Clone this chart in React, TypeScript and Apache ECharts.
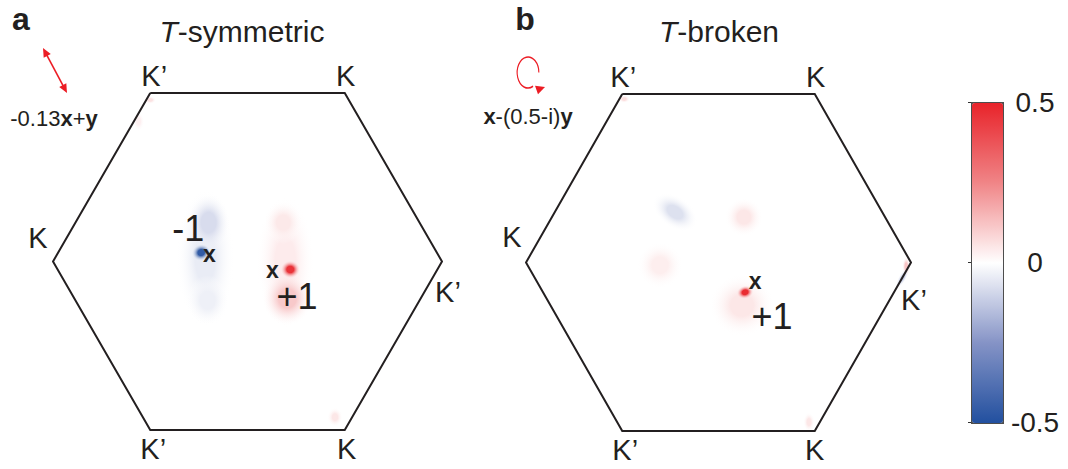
import React, { useEffect, useRef } from 'react';
import * as echarts from 'echarts';

const S = Math.sqrt(3) / 2;
// Brillouin-zone hexagon vertices (k-space units): top-left, top-right, right, bottom-right, bottom-left, left
const hexVertices: number[][] = [[-0.5, S], [0.5, S], [1, 0], [0.5, -S], [-0.5, -S], [-1, 0]];
const vertexNames: string[] = ['K’', 'K', 'K’', 'K', 'K’', 'K'];

// Berry-curvature blobs: [kx, ky, value, extentX, extentY, tiltDeg]
const blobsA: number[][] = [
  [-0.217, 0.02, -0.045, 0.15, 0.36, 0],
  [-0.2, 0.2, -0.08, 0.11, 0.15, 0],
  [-0.205, -0.2, -0.035, 0.11, 0.13, 0],
  [-0.238, 0.046, -0.46, 0.05, 0.045, 20],
  [0.194, 0.0, 0.04, 0.15, 0.34, 0],
  [0.184, 0.2, 0.045, 0.1, 0.11, 0],
  [0.205, -0.19, 0.11, 0.13, 0.14, 0],
  [0.22, -0.041, 0.46, 0.052, 0.048, 0],
  [-0.5, 0.83, 0.06, 0.03, 0.02, 0],
  [-0.56, 0.72, 0.03, 0.03, 0.05, 0],
  [0.45, -0.8, 0.05, 0.04, 0.05, 0],
];
const blobsB: number[][] = [
  [-0.226, 0.259, -0.07, 0.13, 0.08, -35],
  [0.132, 0.233, 0.05, 0.1, 0.1, 0],
  [-0.304, -0.014, 0.035, 0.12, 0.12, 0],
  [0.122, -0.22, 0.05, 0.17, 0.16, 0],
  [0.138, -0.153, 0.48, 0.045, 0.035, 15],
  [0.975, -0.02, 0.12, 0.02, 0.05, 0],
  [0.955, -0.08, -0.12, 0.02, 0.06, -30],
  [-0.49, 0.84, 0.07, 0.03, 0.02, 0],
  [0.47, -0.82, 0.05, 0.03, 0.05, 0],
];

// Text markers inside the zones
const markTextA: string[] = ['-1', 'x', 'x', '+1'];
const markPosA: number[][] = [[-0.305, 0.168], [-0.196, 0.036], [0.128, -0.045], [0.254, -0.18]];
const markTextB: string[] = ['x', '+1'];
const markPosB: number[][] = [[0.19, -0.095], [0.278, -0.275]];

const colorbarTicks: number[] = [-0.5, 0, 0.5];
const titles: string[] = ['{i|T}-symmetric', '{i|T}-broken'];
const panelLetters: string[] = ['a', 'b'];
const polarisations: string[] = ['-0.13{b|x}+{b|y}', '{b|x}-(0.5-i){b|y}'];

const FONT = '"Liberation Sans", Arial, Helvetica, sans-serif';
const INK = '#231f20';

const vertexOffsetsA = [[4, -17], [1, -17], [6, 30], [2, 19], [3, 19], [-15, -24]];
const vertexOffsetsB = [[1, -17], [1, -17], [3, 37], [0, 19], [3, 19], [-14, -26]];

function textSeries(gridIdx: number, pos: number[][], texts: string[], offsets: number[][] | null, styleFor: (t: string) => any) {
  return {
    type: 'custom',
    xAxisIndex: gridIdx,
    yAxisIndex: gridIdx,
    silent: true,
    z: 6,
    encode: { x: 0, y: 1 },
    data: pos,
    renderItem: (params: any, api: any) => {
      const i = params.dataIndex;
      const c = api.coord([api.value(0), api.value(1)]);
      const off = offsets ? offsets[i] : [0, 0];
      return {
        type: 'text',
        x: c[0] + off[0],
        y: c[1] + off[1],
        style: {
          text: texts[i],
          fontFamily: FONT,
          fill: INK,
          align: 'center',
          verticalAlign: 'middle',
          ...styleFor(texts[i]),
        },
      };
    },
  };
}

const vertexStyle = () => ({ fontSize: 29, lineHeight: 22 });
const markStyle = (t: string) =>
  t === 'x'
    ? { fontSize: 23, fontWeight: 'bold', lineHeight: 15 }
    : { fontSize: 36, lineHeight: 27 };

function blobSeries(gridIdx: number, data: number[][]) {
  return {
    type: 'custom',
    xAxisIndex: gridIdx,
    yAxisIndex: gridIdx,
    silent: true,
    z: 1,
    dimensions: ['kx', 'ky', 'v', 'ex', 'ey', 'tilt'],
    encode: { x: 0, y: 1 },
    data,
    renderItem: (params: any, api: any) => {
      const c = api.coord([api.value(0), api.value(1)]);
      const sz = api.size([api.value(3), api.value(4)]);
      const color = api.visual('color');
      return {
        type: 'ellipse',
        x: c[0],
        y: c[1],
        rotation: (api.value(5) * Math.PI) / 180,
        shape: { cx: 0, cy: 0, rx: sz[0], ry: sz[1] },
        style: {
          fill: new echarts.graphic.RadialGradient(0.5, 0.5, 0.5, [
            { offset: 0, color },
            { offset: 0.35, color },
            { offset: 1, color: 'rgba(255,255,255,0)' },
          ]),
        },
      };
    },
  };
}

function hexSeries(gridIdx: number) {
  return {
    type: 'line',
    xAxisIndex: gridIdx,
    yAxisIndex: gridIdx,
    showSymbol: false,
    silent: true,
    z: 4,
    lineStyle: { color: INK, width: 2, join: 'miter' },
    data: [...hexVertices, hexVertices[0]],
  };
}

function arrowHead(tip: number[], dir: number[], len: number, half: number) {
  const n = Math.hypot(dir[0], dir[1]);
  const d = [dir[0] / n, dir[1] / n];
  const b = [tip[0] - d[0] * len, tip[1] - d[1] * len];
  const p = [-d[1], d[0]];
  return [tip, [b[0] + p[0] * half, b[1] + p[1] * half], [b[0] - p[0] * half, b[1] - p[1] * half]];
}

export default function App() {
  const ref = useRef<HTMLDivElement>(null);
  useEffect(() => {
    if (!ref.current) return;
    const chart = echarts.init(ref.current, undefined, { renderer: 'svg' });
    const hidden = { show: false };
    const red = '#ec1c24';
    const a1 = [43, 48];
    const a2 = [67, 93];
    const dir = [a2[0] - a1[0], a2[1] - a1[1]];
    const option: any = {
      animation: false,
      backgroundColor: '#ffffff',
      grid: [
        { left: 53, top: 93, width: 389, height: 337 },
        { left: 526, top: 94, width: 385, height: 337 },
        { left: 971, top: 102, width: 31, height: 320 },
      ],
      xAxis: [
        { type: 'value', gridIndex: 0, min: -1, max: 1, ...hidden },
        { type: 'value', gridIndex: 1, min: -1, max: 1, ...hidden },
        { type: 'value', gridIndex: 2, min: 0, max: 1, ...hidden },
      ],
      yAxis: [
        { type: 'value', gridIndex: 0, min: -S, max: S, ...hidden },
        { type: 'value', gridIndex: 1, min: -S, max: S, ...hidden },
        {
          type: 'value',
          gridIndex: 2,
          position: 'right',
          min: colorbarTicks[0],
          max: colorbarTicks[colorbarTicks.length - 1],
          interval: 0.5,
          z: 10,
          splitLine: { show: false },
          axisLine: { show: false },
          axisTick: { show: true, inside: true, length: 3, lineStyle: { color: '#333', width: 1 } },
          axisLabel: {
            show: true,
            margin: 33,
            align: 'center',
            fontSize: 28,
            fontFamily: FONT,
            color: INK,
            formatter: (v: number) => String(v),
          },
        },
      ],
      visualMap: {
        type: 'continuous',
        min: -0.5,
        max: 0.5,
        dimension: 2,
        seriesIndex: [0, 1],
        calculable: false,
        hoverLink: false,
        show: true,
        left: 971,
        top: 102,
        itemWidth: 31,
        itemHeight: 320,
        padding: 0,
        borderColor: '#4d4d4d',
        borderWidth: 2,
        text: null,
        inRange: { color: ['#22509f', '#8593c6', '#ffffff', '#f08587', '#e8232a'] },
      },
      series: [
        blobSeries(0, blobsA),
        blobSeries(1, blobsB),
        hexSeries(0),
        hexSeries(1),
        textSeries(0, hexVertices, vertexNames, vertexOffsetsA, vertexStyle),
        textSeries(1, hexVertices, vertexNames, vertexOffsetsB, vertexStyle),
        textSeries(0, markPosA, markTextA, null, markStyle),
        textSeries(1, markPosB, markTextB, null, markStyle),
        { type: 'scatter', xAxisIndex: 2, yAxisIndex: 2, data: [] },
      ],
      graphic: [
        { type: 'text', x: 21, y: 19, style: { text: panelLetters[0], fontSize: 32, fontWeight: 'bold', fontFamily: FONT, fill: INK, align: 'center', verticalAlign: 'middle' } },
        { type: 'text', x: 525, y: 19, style: { text: panelLetters[1], fontSize: 32, fontWeight: 'bold', fontFamily: FONT, fill: INK, align: 'center', verticalAlign: 'middle' } },
        { type: 'text', x: 242, y: 31, style: { text: titles[0], fontSize: 30, fontFamily: FONT, fill: INK, align: 'center', verticalAlign: 'middle', rich: { i: { fontStyle: 'italic', fontSize: 30, fontFamily: FONT, fill: INK } } } },
        { type: 'text', x: 719, y: 31, style: { text: titles[1], fontSize: 30, fontFamily: FONT, fill: INK, align: 'center', verticalAlign: 'middle', rich: { i: { fontStyle: 'italic', fontSize: 30, fontFamily: FONT, fill: INK } } } },
        { type: 'text', x: 54, y: 118, style: { text: polarisations[0], fontSize: 22, fontFamily: FONT, fill: INK, align: 'center', verticalAlign: 'middle', rich: { b: { fontWeight: 'bold', fontSize: 22, fontFamily: FONT, fill: INK } } } },
        { type: 'text', x: 528, y: 116, style: { text: polarisations[1], fontSize: 22, fontFamily: FONT, fill: INK, align: 'center', verticalAlign: 'middle', rich: { b: { fontWeight: 'bold', fontSize: 22, fontFamily: FONT, fill: INK } } } },
        // linear polarisation double arrow
        { type: 'line', shape: { x1: a1[0] + dir[0] * 0.12, y1: a1[1] + dir[1] * 0.12, x2: a2[0] - dir[0] * 0.12, y2: a2[1] - dir[1] * 0.12 }, style: { stroke: red, lineWidth: 1.6 } },
        { type: 'polygon', shape: { points: arrowHead(a2, dir, 9, 4) }, style: { fill: red } },
        { type: 'polygon', shape: { points: arrowHead(a1, [-dir[0], -dir[1]], 9, 4) }, style: { fill: red } },
        // elliptical polarisation loop
        { type: 'arc', x: 528, y: 72.5, scaleX: 0.7, shape: { cx: 0, cy: 0, r: 15.5, startAngle: 0, endAngle: (62 * Math.PI) / 180, clockwise: false }, style: { stroke: red, lineWidth: 1.6, fill: 'none', strokeNoScale: true } },
        { type: 'polygon', shape: { points: arrowHead([545, 87], [1, -0.35], 9, 4.5) }, style: { fill: red } },
      ],
    };
    chart.setOption(option);
    return () => chart.dispose();
  }, []);
  return <div ref={ref} style={{ position: 'fixed', left: 0, top: 0, width: 1068, height: 469 }} />;
}
